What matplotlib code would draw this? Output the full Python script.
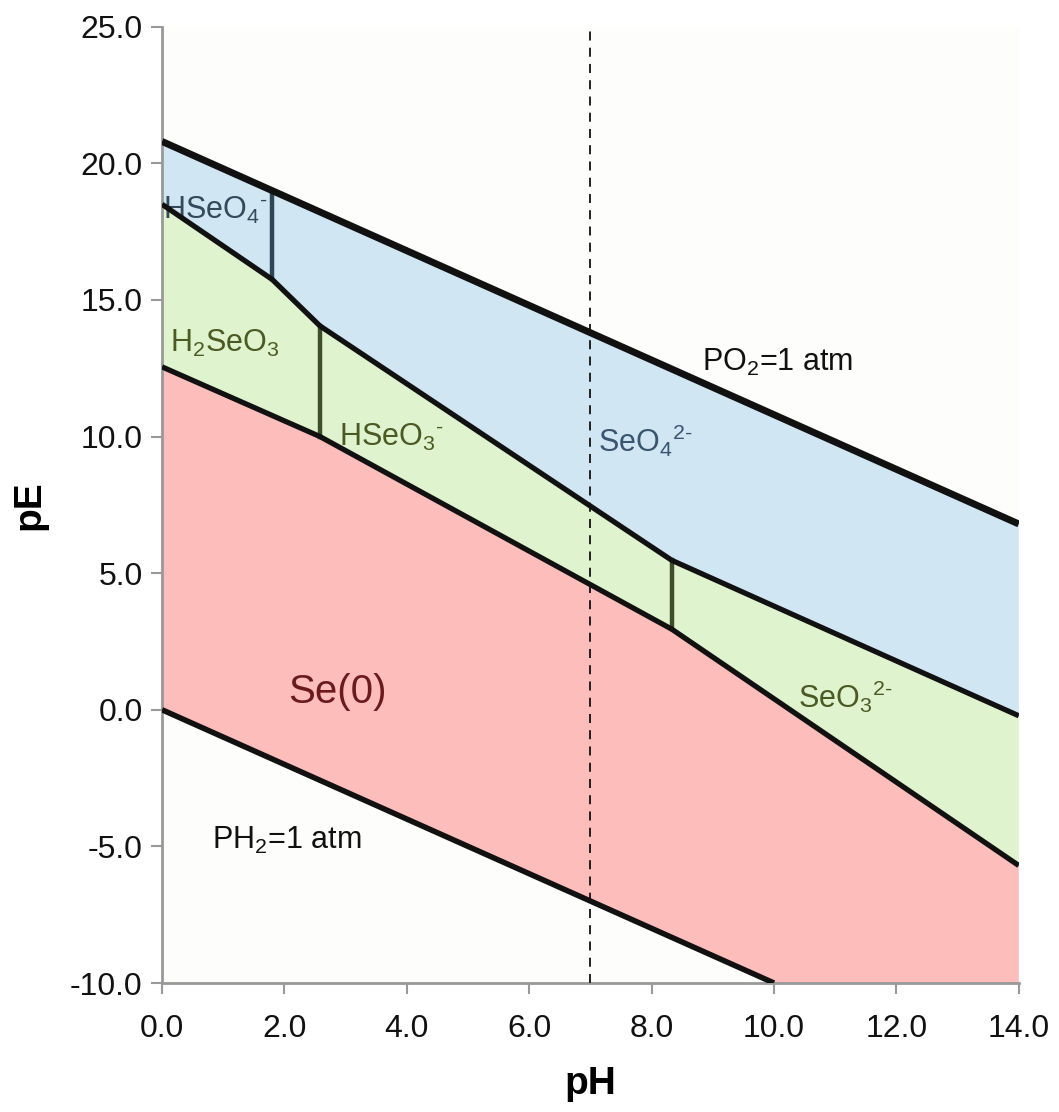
import numpy as np
import matplotlib.pyplot as plt

plt.rcParams['font.family'] = ['Liberation Sans', 'DejaVu Sans']
plt.rcParams['mathtext.fontset'] = 'custom'
plt.rcParams['mathtext.rm'] = 'Liberation Sans'
plt.rcParams['mathtext.it'] = 'Liberation Sans:italic'
plt.rcParams['mathtext.bf'] = 'Liberation Sans:bold'

# water stability limits
o2_ph = np.array([0.0, 14.0])
o2_pe = np.array([20.8, 6.8])
h2_ph = np.array([0.0, 10.0])
h2_pe = np.array([0.0, -10.0])

# Se(VI) / Se(IV) boundary
se6_ph = np.array([0.0, 1.8, 2.58, 8.33, 14.0])
se6_pe = np.array([18.5, 15.75, 14.05, 5.47, -0.22])

# Se(IV) / Se(0) boundary
se0_ph = np.array([0.0, 2.58, 8.33, 14.0])
se0_pe = np.array([12.55, 10.0, 2.95, -5.7])

# pKa lines
pka_se6 = 1.8
pka_se4 = [2.58, 8.33]

labels = [
    (0.02, 17.95, r'HSeO$_4$$^{\text{-}}$', '#34495a', 22),
    (0.13, 13.1, r'H$_2$SeO$_3$', '#4b5a22', 22),
    (2.9, 9.67, r'HSeO$_3$$^{\text{-}}$', '#4b5a22', 22),
    (7.12, 9.45, r'SeO$_4$$^{\text{2-}}$', '#3a5570', 22),
    (8.82, 12.4, r'PO$_2$=1 atm', '#111111', 22),
    (10.39, 0.07, r'SeO$_3$$^{\text{2-}}$', '#4b5a22', 22),
    (2.06, 0.25, 'Se(0)', '#6b1b1b', 29),
    (0.82, -5.1, r'PH$_2$=1 atm', '#111111', 22),
]

fig = plt.figure(figsize=(10.59, 11.12), dpi=100)
ax = fig.add_axes([0.153, 0.116, 0.809, 0.860])
ax.set_facecolor('#fdfdfb')

# colored stability fields
ax.fill(np.concatenate([o2_ph, se6_ph[::-1]]), np.concatenate([o2_pe, se6_pe[::-1]]),
        color='#d0e6f3', lw=0, zorder=1)
ax.fill(np.concatenate([se6_ph, se0_ph[::-1]]), np.concatenate([se6_pe, se0_pe[::-1]]),
        color='#dff4ce', lw=0, zorder=1)
ax.fill(np.concatenate([se0_ph, [14.0], h2_ph[::-1]]),
        np.concatenate([se0_pe, [-10.0], h2_pe[::-1]]),
        color='#fdbdba', lw=0, zorder=1)

for x, y, s, c, fs in labels:
    ax.text(x, y, s, color=c, fontsize=fs, zorder=2)

# vertical acid/base boundaries
ax.plot([pka_se6, pka_se6], [np.interp(pka_se6, se6_ph, se6_pe), np.interp(pka_se6, o2_ph, o2_pe)],
        color='#2e4656', lw=3.2, zorder=3)
for p in pka_se4:
    ax.plot([p, p], [np.interp(p, se0_ph, se0_pe), np.interp(p, se6_ph, se6_pe)],
            color='#3e4e2a', lw=3.2, zorder=3)

ax.plot(o2_ph, o2_pe, color='#111111', lw=5.0, solid_capstyle='butt', zorder=4)
ax.plot(h2_ph, h2_pe, color='#111111', lw=4.0, solid_capstyle='butt', zorder=4)
ax.plot(se6_ph, se6_pe, color='#111111', lw=3.8, solid_capstyle='butt', zorder=4)
ax.plot(se0_ph, se0_pe, color='#111111', lw=3.8, solid_capstyle='butt', zorder=4)

# neutral pH
ax.axvline(7.0, color='#111111', lw=1.3, ls=(0, (5, 4)), zorder=5)

ax.set_xlim(0, 14)
ax.set_ylim(-10, 25)
ax.set_xticks(np.arange(0, 14.1, 2))
ax.set_yticks(np.arange(-10, 25.1, 5))
ax.set_xticklabels(['%.1f' % v for v in np.arange(0, 14.1, 2)])
ax.set_yticklabels(['%.1f' % v for v in np.arange(-10, 25.1, 5)])
ax.tick_params(direction='out', length=8, width=1.5, color='#999999',
               labelsize=23, labelcolor='#111111', pad=6)
ax.tick_params(axis='x', pad=14)

for side in ['top', 'right']:
    ax.spines[side].set_visible(False)
for side in ['left', 'bottom']:
    ax.spines[side].set_color('#999999')
    ax.spines[side].set_linewidth(2)

ax.set_xlabel('pH', fontsize=28, fontweight='bold', labelpad=16)
ax.set_ylabel('pE', fontsize=28, fontweight='bold', labelpad=16)

fig.savefig('out.png', dpi=100, facecolor='white')
